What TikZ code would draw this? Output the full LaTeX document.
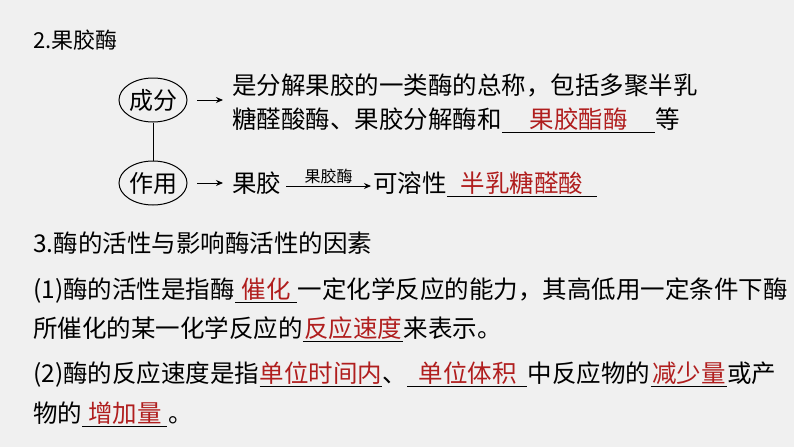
\documentclass[tikz,border=0pt]{standalone}
\usepackage{fontspec}
\setmainfont{Noto Sans CJK SC}
\usetikzlibrary{arrows.meta,shapes.geometric}
\definecolor{bg}{HTML}{F0F0F0}
\definecolor{ans}{HTML}{B01E1E}
\begin{document}
\begin{tikzpicture}[x=1pt,y=-1pt,
  t/.style={inner sep=0pt,anchor=base west,font=\fontsize{24.5}{28}\selectfont},
  blank/.style={t,text=ans,align=center,inner ysep=0pt},
  ul/.style={line width=0.8pt},
  oval/.style={draw,ellipse,line width=1pt,minimum width=68pt,minimum height=44pt,inner sep=0pt,font=\fontsize{24}{28}\selectfont},
  arr/.style={-{Stealth[length=7pt,width=6pt]},line width=1pt}]
\fill[bg] (0,0) rectangle (794,447);
\useasboundingbox (0,0) rectangle (794,447);
\node[t,font=\fontsize{22}{26}\selectfont] (h2) at (33,48) {2.果胶酶};
\node[oval] (cf) at (153,100) {成分};
\node[oval] (zy) at (153,183) {作用};
\draw[line width=1pt] (cf) -- (zy);
\coordinate (a1) at (197,100); \coordinate (a2) at (223,100);
\draw[arr] (a1) -- (a2);
\coordinate (b1) at (197,183); \coordinate (b2) at (223,183);
\draw[arr] (b1) -- (b2);
\node[t] (l1) at (232,94) {是分解果胶的一类酶的总称，包括多聚半乳};
\node[t] (l2) at (232,128) {糖醛酸酶、果胶分解酶和};
\node[blank,minimum width=153pt] (f1) at (l2.base east) {果胶酯酶};
\draw[ul] (f1.base west)++(0,4) -- ++(153,0);
\node[t] (l2b) at (f1.base east) {等};
\node[t] (g1) at (232,192) {果胶};
\coordinate (k1) at (286,186); \coordinate (k2) at (371,186);
\draw[arr] (k1) -- node[above=1pt,font=\fontsize{16}{19}\selectfont,inner sep=1pt] (kl) {果胶酶} (k2);
\node[t] (g2) at (373,192) {可溶性};
\node[blank,minimum width=150pt] (f2) at (g2.base east) {半乳糖醛酸};
\draw[ul] (f2.base west)++(0,4) -- ++(150,0);
\node[t] (h3) at (33,252) {3.酶的活性与影响酶活性的因素};
\node[t] (p1) at (33,298) {(1)酶的活性是指酶};
\node[blank,minimum width=62pt] (f3) at (p1.base east) {催化};
\draw[ul] (f3.base west)++(0,4) -- ++(62,0);
\node[t] (p1b) at (f3.base east) {一定化学反应的能力，其高低用一定条件下酶};
\node[t] (p2) at (33,337) {所催化的某一化学反应的};
\node[blank,minimum width=100pt] (f4) at (p2.base east) {反应速度};
\draw[ul] (f4.base west)++(0,4) -- ++(100,0);
\node[t] (p2b) at (f4.base east) {来表示。};
\node[t] (p3) at (33,382) {(2)酶的反应速度是指};
\node[blank,minimum width=122pt] (f5) at (p3.base east) {单位时间内};
\draw[ul] (f5.base west)++(0,4) -- ++(122,0);
\node[t] (p3b) at (f5.base east) {、};
\node[blank,minimum width=120pt] (f6) at (p3b.base east) {单位体积};
\draw[ul] (f6.base west)++(0,4) -- ++(120,0);
\node[t] (p3c) at (f6.base east) {中反应物的};
\node[blank,minimum width=76pt] (f7) at (p3c.base east) {减少量};
\draw[ul] (f7.base west)++(0,4) -- ++(76,0);
\node[t] (p3d) at (f7.base east) {或产};
\node[t] (p4) at (33,422) {物的};
\node[blank,minimum width=85pt] (f8) at (p4.base east) {增加量};
\draw[ul] (f8.base west)++(0,4) -- ++(85,0);
\node[t] (p4b) at (f8.base east) {。};
\end{tikzpicture}
\end{document}
